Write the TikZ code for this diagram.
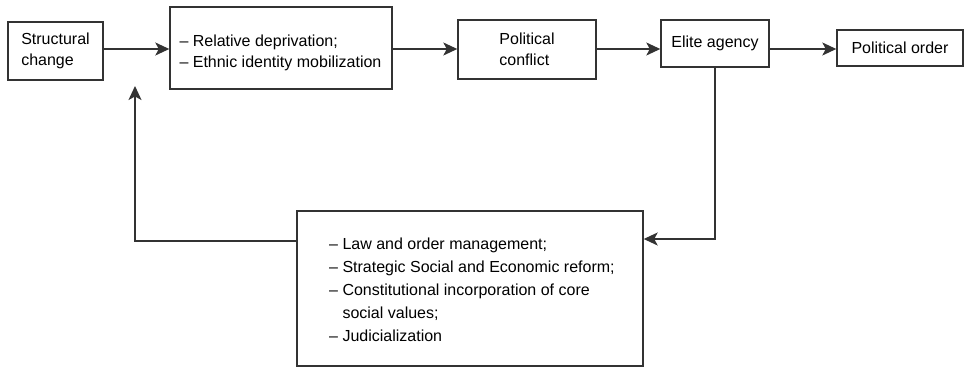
\documentclass[tikz,border=0pt]{standalone}
\usepackage{fontspec}
\setmainfont{Liberation Sans}
\usetikzlibrary{arrows.meta,calc}
\definecolor{ink}{HTML}{333333}
\tikzset{
  box/.style={draw=ink, line width=1.4pt, rectangle, inner sep=0pt},
  lbl/.style={font=\fontsize{16}{20.5}\selectfont, align=left, inner sep=0pt, text=black},
  lst/.style={font=\fontsize{16}{22.8}\selectfont, align=left, inner sep=0pt, text=black},
  arr/.style={draw=ink, line width=1.4pt, -{Stealth[length=14pt, width=13pt, inset=3.5pt]}}
}
\begin{document}
\begin{tikzpicture}[x=1pt, y=-1pt]
  \useasboundingbox (0,0) rectangle (965,367);
  % main row of boxes
  \node[box, minimum width=95pt, minimum height=58pt] (A) at (55.5,51) {};
  \node[lbl] (Atxt) at (A.center) {Structural\\change};
  \node[box, minimum width=222pt, minimum height=82pt] (B) at (281,48) {};
  \node[lbl, anchor=west] (Btxt) at ($(B.west)+(10,5)$) {– Relative deprivation;\\– Ethnic identity mobilization};
  \node[box, minimum width=138pt, minimum height=59pt] (C) at (527,49.5) {};
  \node[lbl] (Ctxt) at (C.center) {Political\\conflict};
  \node[box, minimum width=108pt, minimum height=47pt] (D) at (715,43.5) {};
  \node[lbl] (Dtxt) at (D.center) {Elite agency};
  \node[box, minimum width=126pt, minimum height=36pt] (E) at (900,48) {};
  \node[lbl] (Etxt) at (E.center) {Political order};
  % feedback box
  \node[box, minimum width=346pt, minimum height=155pt] (F) at (470,288.5) {};
  \node[lst, anchor=north west] (Ftxt) at (329,238) {– Law and order management;\\– Strategic Social and Economic reform;\\– Constitutional incorporation of core\\\phantom{– }social values;\\– Judicialization};
  % connectors
  \coordinate (row) at (0,49);
  \draw[arr] (A.east |- row) -- (B.west |- row);
  \draw[arr] (B.east |- row) -- (C.west |- row);
  \draw[arr] (C.east |- row) -- (D.west |- row);
  \draw[arr] (D.east |- row) -- (E.west |- row);
  \coordinate (fb) at (0,239);
  \draw[arr] (D.south) -- (D.south |- fb) -- (F.east |- fb);
  \coordinate (up) at (135,86);
  \draw[arr] (F.west |- 0,241) -- (up |- 0,241) -- (up);
\end{tikzpicture}
\end{document}
